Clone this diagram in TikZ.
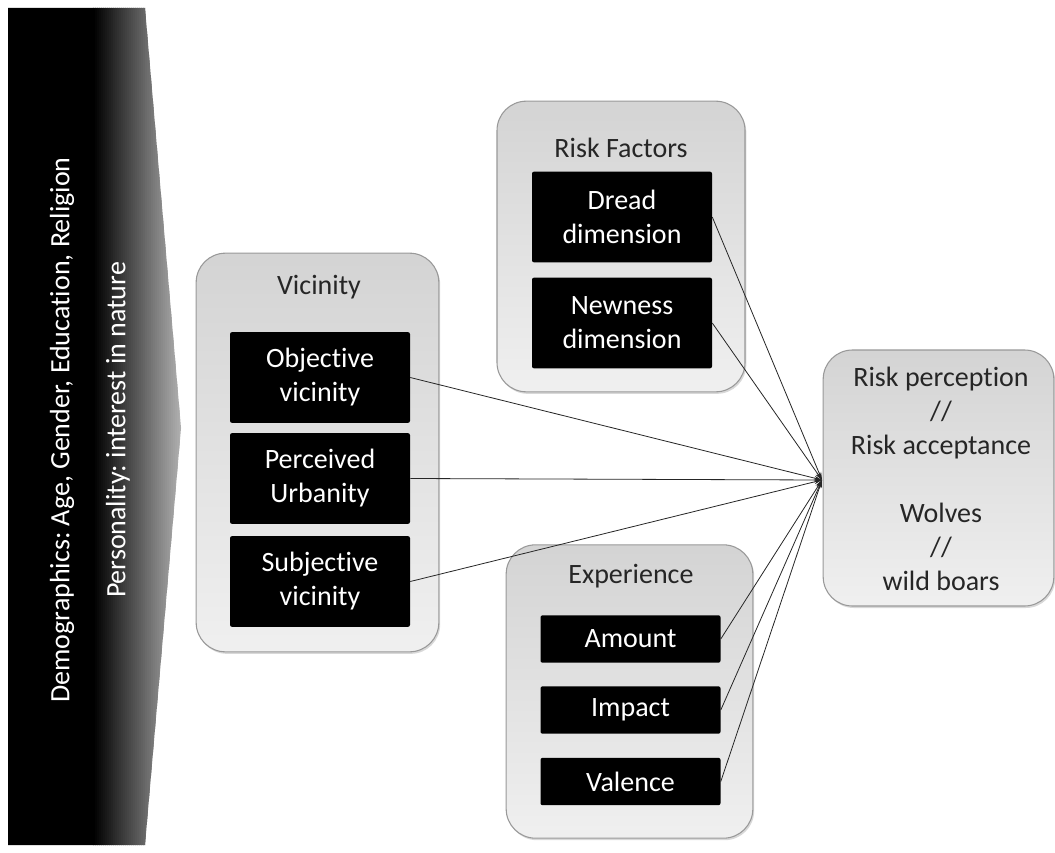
\documentclass[tikz,border=0pt]{standalone}
\usepackage{fontspec}
\setmainfont{Carlito}[Ligatures={NoCommon}]
\usetikzlibrary{arrows.meta,shadows}
\begin{document}
\frenchspacing
\begin{tikzpicture}[x=0.75pt,y=-0.75pt,
  txt/.style={font=\fontsize{21}{25.5}\selectfont, align=center},
  grp/.style={draw=black!40, line width=0.8pt, rounded corners=22pt,
     top color=black!17, bottom color=black!6, inner sep=0pt,
     drop shadow={shadow xshift=1pt, shadow yshift=-1.5pt, opacity=0.3}},
  blk/.style={txt, fill=black, text=white, rounded corners=1.5pt, inner sep=0pt,
     minimum width=135pt},
  tall/.style={minimum height=68pt},
  short/.style={minimum height=35.5pt},
  lbl/.style={txt, text=black!85},
  con/.style={draw=black!85, line width=0.6pt, -{Stealth[length=6pt,width=3.5pt]}}
]
\useasboundingbox (0,0) rectangle (1055,852);
\fill[white] (0,0) rectangle (1055,852);

% left chevron
\begin{scope}
  \clip (8,8) -- (145,8) -- (181,428) -- (145,845) -- (8,845) -- cycle;
  \fill[black] (7,7) rectangle (94,846);
  \foreach \i in {0,...,44}{
    \pgfmathsetmacro{\xa}{93+2*\i}
    \pgfmathsetmacro{\xb}{95.6+2*\i}
    \pgfmathsetmacro{\pc}{100-70*\i/44}
    \fill[black!\pc] (\xa,7) rectangle (\xb,846);
  }
\end{scope}
\node[txt, text=white, rotate=90] (demo) at (62,430) {Demographics: Age, Gender, Education, Religion};
\node[txt, text=white, rotate=90] (pers) at (118,430) {Personality: interest in nature};

% group boxes
\node[grp, minimum width=182pt, minimum height=299pt] (vic) at (317.5,452.5) {};
\node[grp, minimum width=186pt, minimum height=218pt] (rf) at (621,246.5) {};
\node[grp, minimum width=185pt, minimum height=220pt] (exp) at (629.5,691.5) {};
\node[grp, minimum width=173pt, minimum height=192pt] (rp) at (938.5,478) {};

\node[lbl] (vicl) at (319,287) {Vicinity};
\node[lbl] (rfl) at (621,148) {Risk Factors};
\node[lbl] (expl) at (631,576) {Experience};
\node[lbl] (rpt) at (941,479) {Risk perception\\//\\Risk acceptance\\[25.5pt]Wolves\\//\\wild boars};

% black boxes
\node[blk, tall] (obj) at (320,377.5) {Objective\\vicinity};
\node[blk, tall] (per) at (320,478.5) {Perceived\\Urbanity};
\node[blk, tall] (sub) at (320,581.5) {Subjective\\vicinity};
\node[blk, tall] (dre) at (622,217) {Dread\\dimension};
\node[blk, tall] (new) at (622,323) {Newness\\dimension};
\node[blk, short] (amo) at (630.5,639) {Amount};
\node[blk, short] (imp) at (630.5,710) {Impact};
\node[blk, short] (val) at (630.5,781.5) {Valence};

% connectors
\coordinate (c) at (822,480);
\foreach \n in {obj,per,sub,dre,new,amo,imp,val}
  \draw[con] (\n.east) -- (c);
\end{tikzpicture}
\end{document}
